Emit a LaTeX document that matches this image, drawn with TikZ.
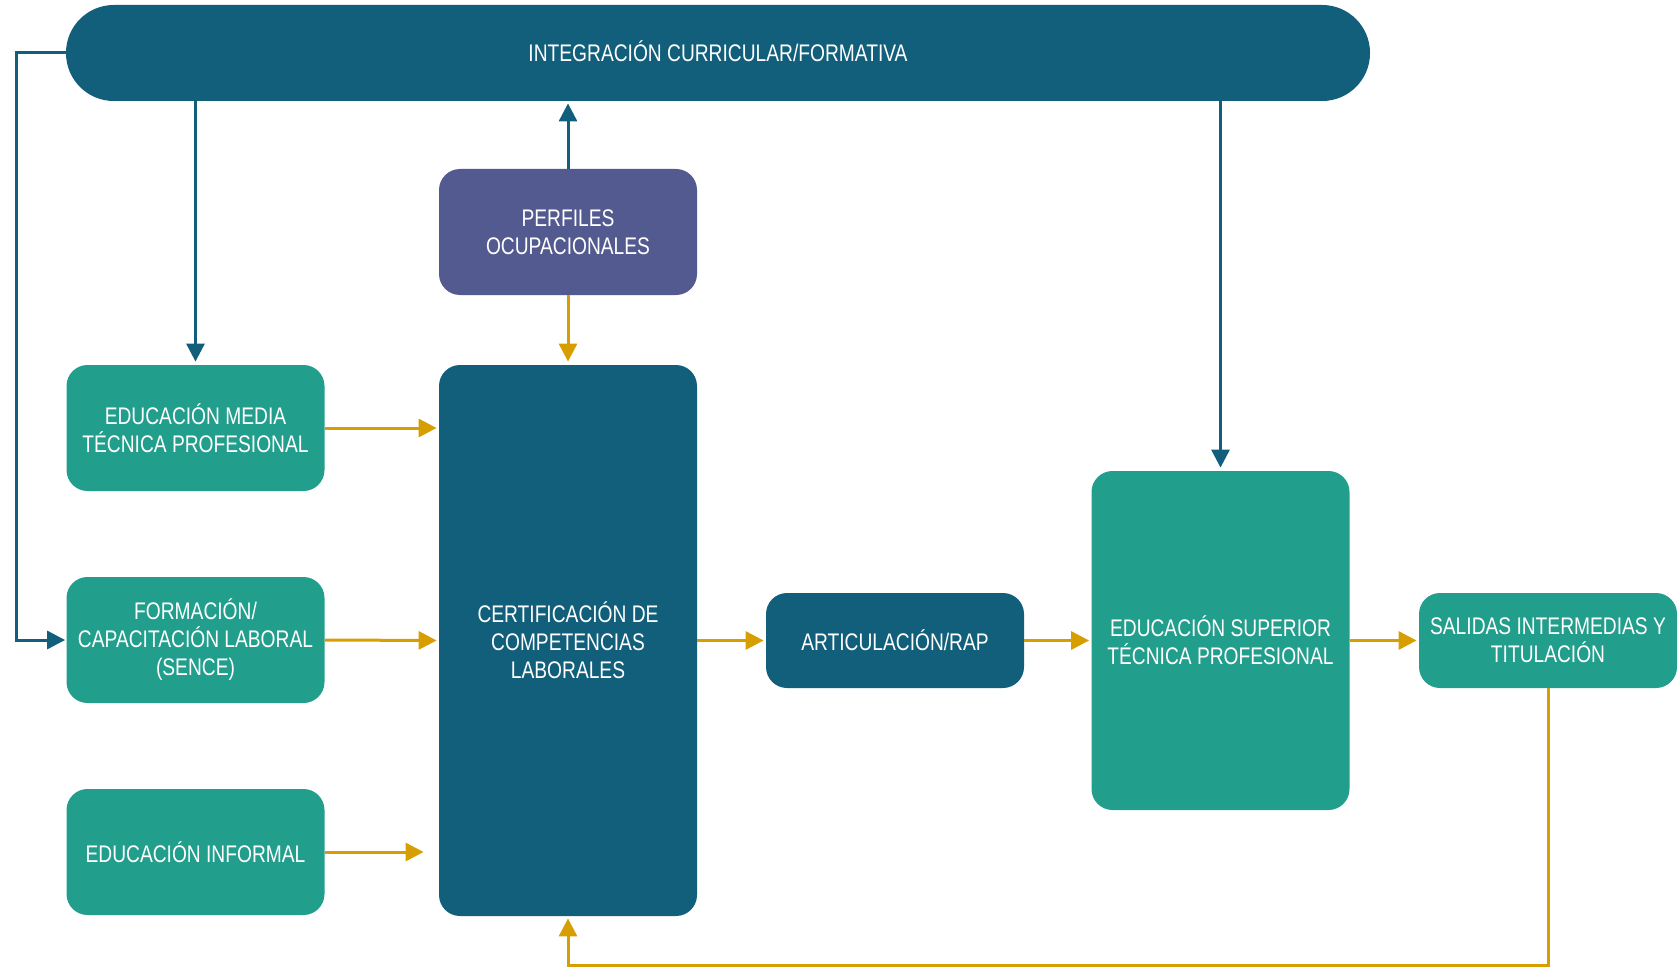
\documentclass[tikz,border=0pt]{standalone}
\usepackage{fontspec}
\setmainfont{Liberation Sans}[FakeStretch=0.8]
\usetikzlibrary{arrows.meta}
\definecolor{dblue}{RGB}{17,95,122}
\definecolor{tgreen}{RGB}{33,158,140}
\definecolor{purp}{RGB}{83,90,143}
\definecolor{gold}{RGB}{214,158,0}
\begin{document}
\begin{tikzpicture}[x=0.5pt,y=-0.5pt,
  box/.style={rounded corners=10.5pt, inner sep=0pt, align=center, text=white,
    font=\fontsize{12}{14}\selectfont, minimum width=129pt, minimum height=63pt},
  gbox/.style={box, fill=tgreen},
  bbox/.style={box, fill=dblue},
  pbox/.style={box, fill=purp},
  arrb/.style={draw=dblue, line width=1.5pt, -{Triangle[length=9pt,width=9pt]}},
  arrg/.style={draw=gold, line width=1.5pt, -{Triangle[length=9pt,width=9pt]}}]
\useasboundingbox (0,0) rectangle (1679,968);
\node[bbox, rounded corners=23.9pt, minimum width=652pt, minimum height=48pt] (pill) at (718,53) {\raisebox{1.5pt}{INTEGRACIÓN CURRICULAR/FORMATIVA}};
\node[pbox] (perf) at (568,232) {PERFILES\\OCUPACIONALES};
\node[gbox] (emtp) at (195.5,428) {EDUCACIÓN MEDIA\\TÉCNICA PROFESIONAL};
\node[gbox] (form) at (195.5,640) {FORMACIÓN/\\CAPACITACIÓN LABORAL\\(SENCE)};
\node[gbox] (inf) at (195.5,852) {EDUCACIÓN INFORMAL};
\node[bbox, minimum height=275.5pt] (cert) at (568,640.5) {CERTIFICACIÓN DE\\COMPETENCIAS\\LABORALES};
\node[bbox, minimum height=47.5pt] (art) at (895,640.5) {ARTICULACIÓN/RAP};
\node[gbox, minimum height=169.5pt] (sup) at (1220.5,640.5) {EDUCACIÓN SUPERIOR\\TÉCNICA PROFESIONAL};
\node[gbox, minimum height=47.5pt] (sal) at (1548,640.5) {SALIDAS INTERMEDIAS Y\\TITULACIÓN};
% blue connectors
\draw[arrb, shorten >=0.5pt] (pill.west) -- (16,53) |- (form.west);
\draw[arrb, shorten >=1.5pt] (pill.south -| emtp.north) -- (emtp.north);
\draw[arrb, shorten >=1pt] (perf.north) -- (perf.north |- pill.south);
\draw[arrb, shorten >=1.5pt] (pill.south -| sup.north) -- (sup.north);
% gold connectors
\draw[arrg, shorten >=1.5pt] (perf.south) -- (cert.north);
\draw[arrg, shorten >=1pt] (emtp.east) -- (emtp.east -| cert.west);
\draw[arrg, shorten >=1pt] (form.east) -- (cert.west);
\draw[arrg, shorten >=7.5pt] (inf.east) -- (inf.east -| cert.west);
\draw[arrg, shorten >=1pt] (cert.east |- art.west) -- (art.west);
\draw[arrg, shorten >=1pt] (art.east) -- (sup.west |- art.east);
\draw[arrg, shorten >=1pt] (sup.east |- sal.west) -- (sal.west);
\draw[arrg, shorten >=1pt] (sal.south) -- ++(0,277) -| (cert.south);
\end{tikzpicture}
\end{document}
